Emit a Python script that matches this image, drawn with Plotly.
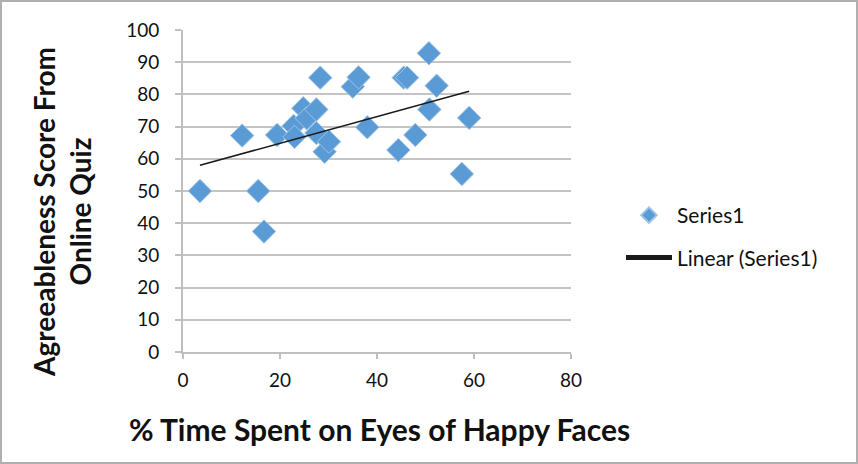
import numpy as np
import plotly.graph_objects as go

# Data
time_on_eyes = [3.5, 12.2, 15.5, 16.7, 19.4, 22.8, 23.0, 24.8, 25.5, 27.5, 27.5, 28.3, 29.2,
                30.1, 35.0, 36.2, 38.0, 44.4, 45.5, 46.2, 47.9, 50.7, 50.8, 52.3, 57.5, 59.0]
agreeableness = [50.0, 67.2, 50.0, 37.4, 67.4, 70.2, 66.8, 75.7, 72.6, 75.3, 68.0, 85.2, 62.2,
                 65.3, 82.4, 85.3, 69.8, 62.7, 85.2, 85.2, 67.4, 92.8, 75.3, 82.7, 55.3, 72.7]
x_ticks = [0, 20, 40, 60, 80]
y_ticks = [0, 10, 20, 30, 40, 50, 60, 70, 80, 90, 100]

series_name = "Series1"
trend_name = "Linear (Series1)"
x_title = "% Time Spent on Eyes of Happy Faces"
y_title = "Agreeableness Score From<br>Online Quiz"

# Linear trendline (least squares), spanning the data range
slope, intercept = np.polyfit(time_on_eyes, agreeableness, 1)
trend_x = [min(time_on_eyes), max(time_on_eyes)]
trend_y = [slope * v + intercept for v in trend_x]

FONT = "Lato"
W, H = 858, 464
ML, MR, MT, MB = 183, 287, 30, 112
pw, ph = W - ML - MR, H - MT - MB


def px_x(px):
    return (px - ML) / pw


def px_y(py):
    return (MT + ph - py) / ph


fig = go.Figure()
fig.add_trace(go.Scatter(
    x=time_on_eyes, y=agreeableness, mode="markers", name=series_name,
    legendgroup="a",
    marker=dict(symbol="diamond", size=18, color="#5B9BD5",
                line=dict(color="#9cc3e8", width=1)),
))
fig.add_trace(go.Scatter(
    x=trend_x, y=trend_y, mode="lines", name=trend_name, legendgroup="b",
    line=dict(color="#1a1a1a", width=1.5),
))

fig.update_layout(
    width=W, height=H,
    margin=dict(l=ML, r=MR, t=MT, b=MB, autoexpand=False),
    paper_bgcolor="white", plot_bgcolor="white",
    font=dict(family=FONT, size=19, color="#111"),
    legend=dict(x=px_x(621), y=px_y(195), xanchor="left", yanchor="top",
                traceorder="grouped", tracegroupgap=12, itemwidth=46,
                itemsizing="constant",
                font=dict(family=FONT, size=21, color="#111"),
                bgcolor="rgba(0,0,0,0)"),
    xaxis=dict(range=[0, 80], tickvals=x_ticks, showgrid=False, zeroline=False,
               showline=True, linecolor="#bfbfbf", linewidth=2,
               ticks="outside", ticklen=5, tickwidth=2, tickcolor="#bfbfbf",
               tickfont=dict(size=19), ticklabelstandoff=5, fixedrange=True),
    yaxis=dict(range=[0, 100], tickvals=y_ticks, showgrid=True, gridcolor="#c4c4c4",
               gridwidth=2, zeroline=False,
               showline=True, linecolor="#bfbfbf", linewidth=2,
               ticks="outside", ticklen=6, tickwidth=2, tickcolor="#bfbfbf",
               tickfont=dict(size=19), ticklabelstandoff=12, fixedrange=True),
    annotations=[
        dict(text=f"<b>{x_title}</b>", xref="paper", yref="paper",
             x=px_x(379), y=px_y(429), showarrow=False,
             xanchor="center", yanchor="middle", font=dict(size=30, family=FONT, color="#111")),
        dict(text=f"<b>{y_title}</b>", xref="paper", yref="paper",
             x=px_x(62), y=px_y(212), showarrow=False, textangle=-90,
             xanchor="center", yanchor="middle", font=dict(size=28, family=FONT, color="#111")),
    ],
    shapes=[dict(type="rect", xref="paper", yref="paper",
                 x0=px_x(1), x1=px_x(W - 1),
                 y0=px_y(H - 1), y1=px_y(1),
                 line=dict(color="#b0b0b0", width=2), layer="below")],
)

fig.write_html(
    "out.html",
    config={"displayModeBar": False},
    post_script="document.body.style.margin='0';document.body.style.overflow='hidden';",
)
